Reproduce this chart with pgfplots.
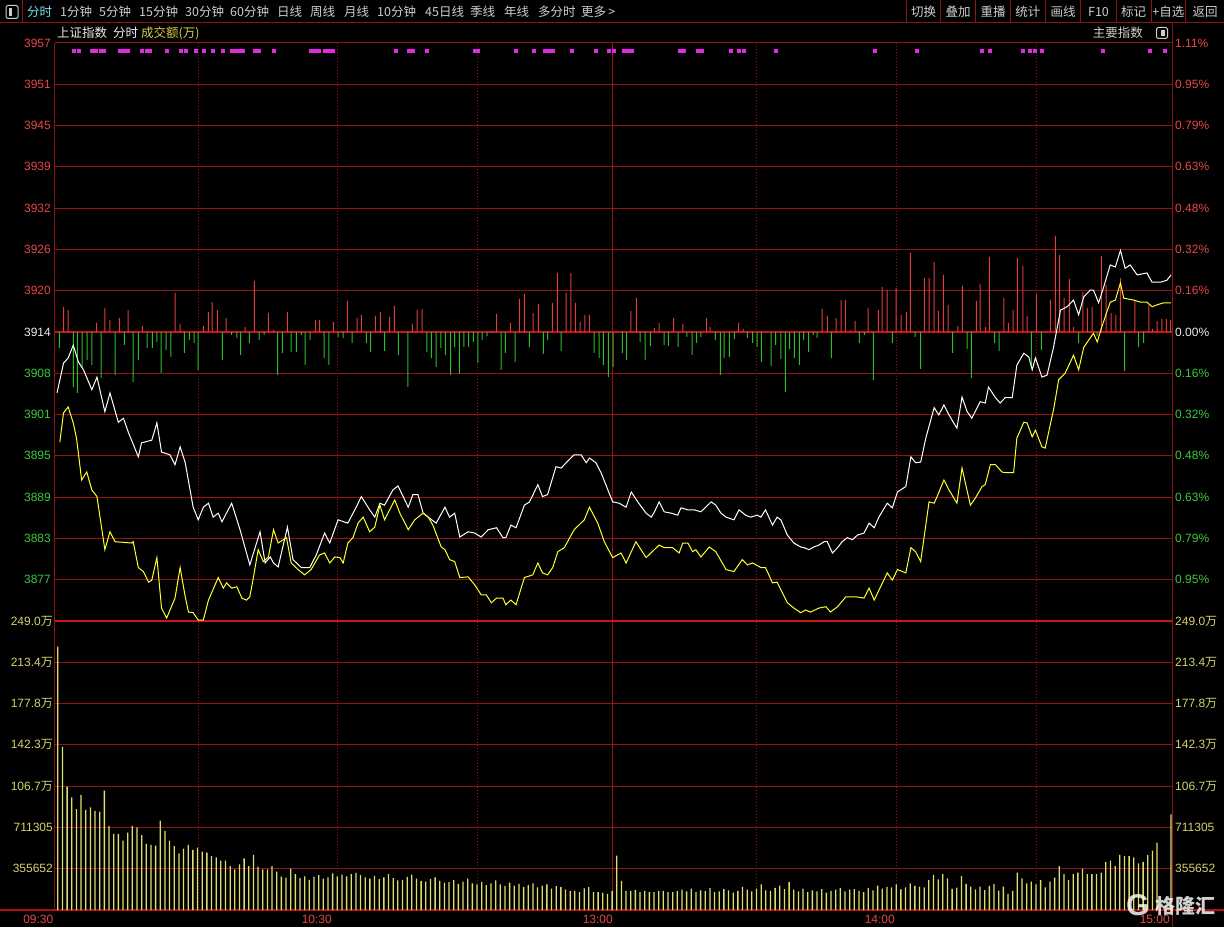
\documentclass[border=0pt]{standalone}
\usepackage{pgfplots}
\pgfplotsset{compat=1.18}
\usepackage{fontspec}
\setmainfont{Liberation Sans}
\newfontfamily\cjk{Noto Sans CJK SC}
\definecolor{gridred}{RGB}{150,18,18}
\definecolor{basered}{RGB}{205,20,20}
\definecolor{lblred}{RGB}{230,70,70}
\definecolor{lblgreen}{RGB}{60,200,60}
\definecolor{lblwhite}{RGB}{235,235,235}
\definecolor{volyel}{RGB}{222,222,110}
\definecolor{vollbl}{RGB}{210,210,110}
\definecolor{barred}{RGB}{225,60,60}
\definecolor{bargreen}{RGB}{40,190,40}
\definecolor{linyel}{RGB}{255,255,40}
\definecolor{pinkmk}{RGB}{230,40,230}
\definecolor{toolgray}{RGB}{205,205,205}
\definecolor{toolcyan}{RGB}{120,220,235}
\definecolor{sep}{RGB}{140,20,20}
\definecolor{khaki}{RGB}{215,205,70}
\newcommand\lf{\fontsize{12}{14}\selectfont}
\newcommand\tf{\cjk\fontsize{12.5}{14}\selectfont}

\pgfplotstableread{
k v
0 226.9
1 140.7
2 106.2
3 97.1
4 86.8
5 99.1
6 86.2
7 88.5
8 85.3
9 84.7
10 102.8
11 72.4
12 65.5
13 65.5
14 59.7
15 66.6
16 72.4
17 71.2
18 64.6
19 56.9
20 56.0
21 55.4
22 76.9
23 68.2
24 59.7
25 55.1
26 48.8
27 52.8
28 56.0
29 51.7
30 53.7
31 50.2
32 49.4
33 46.5
34 45.4
35 42.5
36 42.5
37 37.9
38 35.0
39 39.4
40 44.5
41 37.9
42 47.4
43 37.3
44 35.0
45 35.0
46 37.9
47 33.0
48 28.7
49 27.8
50 35.6
51 31.0
52 27.5
53 29.0
54 26.0
55 28.5
56 30.0
57 27.0
58 28.0
59 31.5
60 29.0
61 30.5
62 29.0
63 31.0
64 32.0
65 30.0
66 28.0
67 27.0
68 29.5
69 26.5
70 28.0
71 31.0
72 27.5
73 25.5
74 26.0
75 28.5
76 30.5
77 27.0
78 25.0
79 24.5
80 26.5
81 28.0
82 25.0
83 23.5
84 24.0
85 26.0
86 22.5
87 24.5
88 27.0
89 23.0
90 22.0
91 24.0
92 21.5
93 23.0
94 25.5
95 22.0
96 20.5
97 23.5
98 21.0
99 22.5
100 20.0
101 21.5
102 23.0
103 19.5
104 21.0
105 22.0
106 18.5
107 20.5
108 19.6
109 17.8
110 16.4
111 16.4
112 15.3
113 18.7
114 19.6
115 15.3
116 15.3
117 14.9
118 13.8
119 16.4
120 46.8
121 25.0
122 16.4
123 16.4
124 17.2
125 15.3
126 16.4
127 15.3
128 15.3
129 16.4
130 16.4
131 15.3
132 15.3
133 16.4
134 17.5
135 16.0
136 18.5
137 15.5
138 17.0
139 16.5
140 19.0
141 15.5
142 16.0
143 18.0
144 17.0
145 15.0
146 16.5
147 20.0
148 17.5
149 16.0
150 18.5
151 22.0
152 17.0
153 16.5
154 19.0
155 21.0
156 18.0
157 24.0
158 17.5
159 16.0
160 18.5
161 15.5
162 17.0
163 16.0
164 18.0
165 15.0
166 16.5
167 17.5
168 19.0
169 16.0
170 17.5
171 18.0
172 16.5
173 15.5
174 19.0
175 17.0
176 21.0
177 18.5
178 20.0
179 19.5
180 22.0
181 17.8
182 19.5
183 23.0
184 20.7
185 20.1
186 19.5
187 25.8
188 30.2
189 26.4
190 31.0
191 27.3
192 18.1
193 19.2
194 29.3
195 22.4
196 20.1
197 17.8
198 20.1
199 17.2
200 20.7
201 22.4
202 16.6
203 20.1
204 13.8
205 16.4
206 32.1
207 27.3
208 23.0
209 24.4
210 22.1
211 25.8
212 19.5
213 24.4
214 27.8
215 37.9
216 31.0
217 25.8
218 31.0
219 32.1
220 35.6
221 31.0
222 31.0
223 31.0
224 32.1
225 41.4
226 42.5
227 37.9
228 47.4
229 46.5
230 46.5
231 45.4
232 40.2
233 41.4
234 47.4
235 51.1
236 58.0
239 82.4
}\voltable

\begin{document}
\begin{tikzpicture}
\useasboundingbox (0,0) rectangle (1224pt,927pt);
\fill[black] (0,0) rectangle (1224pt,927pt);
\begin{scope}[x=1pt,y=-1pt,yshift=927pt]
  % toolbar
  \draw[sep,line width=1pt] (0,22.7) -- (1224,22.7);
  \draw[sep,line width=1pt] (22,0) -- (22,22.7);
  \foreach \sx in {906.8,940.6,975.7,1010.4,1045.4,1080.9,1116,1151,1185.7}
    \draw[sep,line width=1pt] (\sx,0) -- (\sx,22.7);
  \draw[toolgray,line width=1pt,rounded corners=1.5pt] (6,5.5) rectangle (18,18.5);
  \fill[toolgray] (8.5,8) rectangle (12,16);
  \node[anchor=west,inner sep=0pt,text=toolcyan,font=\tf] at (27,12) {分时};
  \foreach \px/\t in {60/1分钟,99/5分钟,139/15分钟,185/30分钟,230/60分钟,277/日线,310/周线,344/月线,377/10分钟,425/45日线,470/季线,504/年线,538/多分时,581/更多\,>}
    \node[anchor=west,inner sep=0pt,text=toolgray,font=\tf] at (\px,12) {\t};
  \foreach \px/\t in {923.7/切换,958.2/叠加,993/重播,1027.9/统计,1063.1/画线,1098.5/F10,1133.5/标记,1168.4/+自选,1205/返回}
    \node[inner sep=0pt,text=toolgray,font=\tf] at (\px,12) {\t};
  % second row
  \node[anchor=west,inner sep=0pt,text=lblwhite,font=\tf] at (57,33) {上证指数};
  \node[anchor=west,inner sep=0pt,text=lblwhite,font=\tf] at (113,33) {分时};
  \node[anchor=west,inner sep=0pt,text=khaki,font=\tf] at (141,33) {成交额(万)};
  \node[anchor=east,inner sep=0pt,text=toolgray,font=\tf] at (1143,33) {主要指数};
  \draw[toolgray,line width=1pt,rounded corners=1.5pt] (1156.5,27.5) rectangle (1167.5,38.5);
  \fill[toolgray] (1161,30) rectangle (1165,36);
  % horizontal grid, price
  \foreach \i in {0,...,13}
    \draw[gridred,line width=1pt] (54.5,{43+\i*41.2857}) -- (1172.5,{43+\i*41.2857});
  % horizontal grid, volume
  \foreach \j in {1,...,6}
    \draw[gridred,line width=1pt] (54.5,{621+\j*41.2857}) -- (1172.5,{621+\j*41.2857});
  % vertical grid
  \foreach \vx in {198.3,337.3,477.3,756.3,896.7,1036.3}
    \draw[gridred,line width=0.9pt,dash pattern=on 1pt off 2pt] (\vx,43) -- (\vx,910);
  \draw[gridred!90!red,line width=1pt] (612.7,43) -- (612.7,910);
  % borders
  \draw[basered,line width=2.2pt] (54.5,332) -- (1172.5,332);
  \draw[basered,line width=2pt] (54.5,621) -- (1172.5,621);
  \draw[basered!85!black,line width=1.4pt] (0,910) -- (1224,910);
  \draw[sep,line width=1pt] (54.5,43) -- (54.5,910);
  \draw[sep,line width=1pt] (1172.5,22.7) -- (1172.5,927);
  % left price labels
  \foreach \i/\t/\c in {0/3957/lblred,1/3951/lblred,2/3945/lblred,3/3939/lblred,4/3932/lblred,5/3926/lblred,6/3920/lblred,7/3914/lblwhite,8/3908/lblgreen,9/3901/lblgreen,10/3895/lblgreen,11/3889/lblgreen,12/3883/lblgreen,13/3877/lblgreen}
    \node[anchor=east,inner sep=0pt,text=\c,font=\lf] at (51,{43+\i*41.2857}) {\t};
  \foreach \i/\t/\c in {0/1.11/lblred,1/0.95/lblred,2/0.79/lblred,3/0.63/lblred,4/0.48/lblred,5/0.32/lblred,6/0.16/lblred,7/0.00/lblwhite,8/0.16/lblgreen,9/0.32/lblgreen,10/0.48/lblgreen,11/0.63/lblgreen,12/0.79/lblgreen,13/0.95/lblgreen}
    \node[anchor=west,inner sep=0pt,text=\c,font=\lf] at (1175,{43+\i*41.2857}) {\t\%};
  % volume labels
  \foreach \j/\t in {0/249.0,1/213.4,2/177.8,3/142.3,4/106.7} {
    \node[anchor=east,inner sep=0pt,text=vollbl,font=\lf] at (53,{621+\j*41.2857}) {\t{\cjk 万}};
    \node[anchor=west,inner sep=0pt,text=vollbl,font=\lf] at (1175,{621+\j*41.2857}) {\t{\cjk 万}};
  }
  \foreach \j/\t in {5/711305,6/355652} {
    \node[anchor=east,inner sep=0pt,text=vollbl,font=\lf] at (53,{621+\j*41.2857}) {\t};
    \node[anchor=west,inner sep=0pt,text=vollbl,font=\lf] at (1175,{621+\j*41.2857}) {\t};
  }
  % time labels
  \foreach \px/\t in {53.5/09:30,332/10:30,613/13:00,895/14:00,1170/15:00}
    \node[anchor=east,inner sep=0pt,text=lblred,font=\lf] at (\px,919) {\t};
\end{scope}

% red/green breadth bars
\begin{axis}[at={(54.5pt,306pt)},anchor=south west,scale only axis,
  width=1118pt,height=578pt,xmin=-0.54,xmax=240.1,ymin=-289,ymax=289,hide axis]
\addplot[ybar,bar width=1pt,bar shift=0pt,draw=none,fill=barred] coordinates {
(1.4,25)(2.4,22)(8.5,9)(10.3,24)(11.4,12)(13.4,14)(15.3,22)(18.4,6)(25.4,39)(26.5,8)(31.5,6)(32.6,20)(33.4,30)(34.5,22)(36.4,14)(40.5,5)(42.5,51)(45.5,19)(46.6,2)(49.6,20)(55.6,12)(56.5,12)(59.5,10)(62.5,31)(64.6,14)(65.5,17)(68.5,16)(69.6,20)(71.6,15)(72.6,26)(76.5,8)(77.5,22)(78.6,23)(93.5,1)(94.6,18)(97.6,9)(99.5,33)(100.6,38)(102.5,19)(103.6,28)(106.6,29)(107.7,59)(109.6,39)(110.6,59)(111.6,29)(112.6,10)(113.6,17)(114.6,17)(123.5,21)(124.7,34)(128.6,4)(129.6,9)(132.7,14)(134.7,8)(139.8,14)(140.6,5)(146.7,9)(147.7,3)(164.7,23)(165.8,16)(167.7,14)(168.8,32)(169.7,32)(170.7,2)(171.8,11)(174.6,24)(176.8,22)(177.6,45)(178.7,42)(180.6,44)(181.7,17)(182.8,20)(183.7,79)(186.7,54)(187.7,54)(188.8,70)(189.7,21)(190.8,57)(191.8,27)(193.9,6)(194.9,46)(197.9,31)(198.7,48)(199.9,5)(200.7,75)(203.8,34)(204.8,9)(205.8,22)(206.7,74)(207.9,66)(208.8,16)(210.8,38)(213.8,32)(214.9,96)(215.8,77)(216.8,34)(217.9,53)(218.8,5)(220.8,40)(221.8,24)(222.8,25)(224.8,76)(225.8,47)(226.9,19)(227.9,17)(228.9,54)(232.0,32)(235.0,27)(235.8,3)(236.8,11)(237.8,13)(238.8,13)(239.7,12)};
\addplot[ybar,bar width=1pt,bar shift=0pt,draw=none,fill=bargreen] coordinates {
(0.5,-16)(3.5,-55)(4.4,-61)(5.4,-35)(6.5,-28)(7.5,-33)(9.5,-46)(12.5,-43)(14.5,-13)(16.4,-50)(17.5,-28)(19.4,-16)(20.5,-16)(21.5,-10)(22.4,-41)(23.5,-18)(24.5,-25)(27.4,-21)(28.5,-8)(29.5,-11)(30.4,-38)(35.6,-28)(37.6,-3)(38.7,-6)(39.5,-23)(41.4,-11)(43.5,-8)(44.6,-3)(47.5,-43)(48.5,-21)(50.4,-20)(51.5,-20)(52.6,-3)(53.4,-33)(54.5,-8)(57.5,-26)(58.5,-33)(60.5,-5)(61.6,-6)(63.5,-11)(66.6,-11)(67.5,-20)(70.5,-19)(73.5,-23)(75.5,-55)(79.6,-20)(80.6,-26)(81.6,-35)(82.6,-16)(83.6,-23)(84.7,-43)(85.6,-15)(86.6,-42)(87.6,-15)(88.6,-15)(89.6,-10)(90.6,-31)(91.5,-8)(92.6,-4)(95.6,-38)(96.5,-21)(98.6,-30)(101.7,-15)(104.7,-22)(105.6,-8)(108.5,-19)(115.6,-21)(116.7,-26)(117.6,-33)(118.7,-45)(119.7,-35)(121.7,-21)(122.6,-28)(125.5,-10)(126.6,-28)(127.7,-14)(130.7,-13)(131.6,-14)(133.7,-15)(135.6,-5)(136.7,-23)(137.7,-11)(138.6,-5)(141.7,-8)(142.8,-43)(143.6,-26)(144.7,-25)(145.8,-7)(148.6,-6)(149.7,-11)(150.7,-15)(151.6,-30)(153.7,-34)(154.7,-13)(155.8,-27)(156.8,-60)(157.7,-17)(158.7,-26)(159.8,-33)(160.7,-8)(161.8,-20)(162.8,-3)(163.6,-6)(166.7,-26)(172.7,-11)(173.8,-3)(175.7,-48)(179.8,-11)(184.7,-5)(185.9,-37)(192.8,-21)(195.9,-17)(196.8,-46)(201.8,-11)(202.8,-19)(209.7,-35)(211.9,-18)(219.9,-11)(223.9,-4)(229.8,-39)(232.8,-15)(233.9,-11)};
\end{axis}

% price lines
\begin{axis}[at={(54.5pt,306pt)},anchor=south west,scale only axis,
  width=1118pt,height=578pt,xmin=-0.54,xmax=240.1,ymin=3870.45,ymax=3957.55,hide axis]
\addplot[white,line width=1pt] coordinates {
(0,3904.8)(1.4,3909.3)(2.4,3910.1)(3.5,3912.0)(4.6,3909.5)(5.7,3908.3)(7.5,3905.3)(8.6,3907.2)(10.3,3902.0)(11.4,3904.8)(13.2,3900.4)(14.3,3901.0)(15.4,3898.8)(17.5,3895.2)(18.2,3897.3)(20.4,3897.7)(21.5,3900.3)(22.5,3895.9)(24.3,3895.5)(25.4,3894.0)(26.5,3896.7)(27.6,3894.3)(29.3,3887.6)(30.4,3885.7)(31.5,3887.6)(32.6,3888.2)(33.6,3886.1)(34.7,3886.7)(35.5,3885.4)(37.6,3888.2)(39.4,3884.2)(41.5,3878.9)(43.7,3883.9)(44.8,3879.2)(45.9,3880.1)(46.6,3879.2)(47.6,3878.6)(49.6,3884.6)(50.8,3879.7)(52.6,3878.5)(54.4,3878.5)(55.8,3880.4)(57.6,3883.7)(58.7,3882.2)(60.5,3885.7)(62.6,3885.2)(64.4,3887.6)(65.5,3889.2)(67.3,3887.2)(68.4,3886.1)(69.5,3888.2)(70.5,3887.9)(72.3,3890.2)(73.4,3890.8)(75.6,3887.6)(76.6,3889.5)(77.7,3889.5)(78.8,3886.7)(79.9,3886.1)(81.6,3885.2)(83.5,3887.6)(84.5,3886.1)(85.6,3886.7)(86.7,3883.1)(88.5,3883.9)(89.9,3883.7)(91.3,3883.1)(92.8,3884.2)(94.6,3884.5)(96.0,3883.0)(96.6,3883.0)(97.7,3884.9)(98.8,3884.5)(100.6,3887.9)(101.7,3888.4)(103.5,3891.0)(104.5,3889.2)(105.6,3889.5)(107.4,3893.7)(108.5,3893.5)(109.6,3894.3)(111.3,3895.5)(112.8,3895.5)(113.9,3894.3)(114.6,3895.0)(116.0,3894.3)(117.1,3892.8)(119.6,3888.4)(121.0,3888.2)(122.5,3887.6)(123.6,3889.9)(125.0,3888.4)(126.8,3886.7)(127.9,3886.1)(128.6,3886.9)(129.6,3888.4)(130.7,3886.9)(132.2,3886.7)(133.6,3886.4)(134.3,3887.5)(135.8,3887.2)(137.2,3887.2)(138.6,3886.9)(140.8,3888.4)(141.8,3887.9)(142.9,3886.7)(144.0,3886.1)(145.7,3885.7)(146.8,3887.2)(148.2,3886.4)(149.3,3886.1)(150.7,3886.4)(151.5,3886.1)(152.5,3887.2)(154.0,3884.9)(155.0,3886.1)(155.8,3885.7)(157.2,3883.4)(158.6,3882.2)(160.1,3881.6)(160.8,3881.5)(161.9,3881.2)(162.9,3881.6)(164.0,3881.9)(165.1,3882.4)(165.8,3882.4)(166.9,3880.7)(168.0,3881.5)(169.0,3882.4)(170.1,3883.0)(171.2,3882.7)(172.3,3883.4)(173.7,3883.7)(174.8,3885.2)(175.9,3884.5)(176.9,3886.1)(178.7,3888.2)(179.8,3887.5)(180.9,3889.9)(182.7,3890.7)(183.8,3895.2)(184.8,3894.3)(185.9,3894.4)(187.0,3898.0)(188.8,3902.6)(189.8,3901.5)(190.9,3903.0)(192.0,3901.5)(193.7,3899.5)(194.8,3904.2)(195.9,3902.0)(196.9,3901.0)(198.7,3903.5)(199.8,3903.3)(200.5,3905.7)(202.0,3904.1)(203.0,3903.3)(204.1,3904.1)(205.6,3904.1)(206.6,3909.0)(208.1,3910.8)(209.2,3910.2)(209.9,3908.3)(210.6,3910.1)(212.0,3907.2)(213.1,3907.5)(214.5,3911.7)(216.0,3917.3)(217.4,3917.8)(218.8,3918.8)(219.9,3916.6)(221.0,3919.3)(222.4,3920.3)(223.1,3920.3)(224.2,3918.4)(225.3,3920.8)(226.7,3924.1)(227.8,3923.8)(228.9,3926.3)(229.9,3923.6)(231.0,3924.1)(232.5,3922.6)(234.6,3922.9)(235.7,3921.5)(237.5,3921.5)(238.9,3921.8)(239.8,3922.6)};
\addplot[linyel,line width=1pt] coordinates {
(0.6,3897.4)(1.4,3901.8)(2.4,3902.7)(3.5,3900.3)(4.2,3898.0)(5.3,3891.7)(6.4,3892.9)(7.5,3890.2)(8.6,3889.2)(10.3,3881.2)(11.4,3883.9)(12.5,3882.4)(16.1,3882.2)(16.4,3882.4)(17.5,3878.5)(18.6,3877.9)(19.7,3876.3)(20.4,3876.6)(21.5,3880.0)(22.5,3872.4)(23.6,3870.9)(25.4,3873.9)(26.5,3878.5)(27.6,3874.1)(28.3,3871.8)(29.3,3871.7)(30.4,3870.6)(31.5,3870.6)(32.6,3873.6)(34.7,3877.0)(35.8,3875.4)(36.5,3876.2)(37.6,3875.4)(38.7,3875.6)(39.8,3873.9)(40.8,3873.6)(41.5,3874.1)(42.3,3877.1)(43.3,3881.2)(44.4,3879.4)(45.5,3880.1)(46.6,3884.2)(47.6,3882.2)(49.4,3883.0)(50.4,3879.2)(51.9,3878.2)(53.3,3877.4)(54.7,3878.2)(56.5,3880.4)(57.6,3880.7)(58.7,3879.2)(59.8,3880.1)(60.9,3880.0)(61.6,3879.2)(62.6,3882.2)(63.7,3883.0)(64.8,3885.2)(65.9,3886.1)(67.3,3883.9)(68.4,3884.6)(69.5,3887.9)(70.5,3885.7)(72.7,3888.7)(73.8,3886.7)(75.6,3884.2)(77.0,3885.7)(78.8,3886.7)(79.9,3886.1)(80.9,3884.9)(82.7,3881.6)(83.5,3881.2)(84.5,3879.7)(85.6,3879.4)(86.7,3877.0)(88.5,3877.1)(89.9,3875.9)(91.3,3874.4)(92.4,3874.4)(93.5,3873.2)(94.6,3873.9)(96.0,3873.9)(96.6,3872.9)(97.7,3873.6)(98.8,3872.9)(100.6,3877.0)(102.4,3877.4)(103.5,3879.2)(104.5,3877.7)(105.6,3877.4)(106.7,3878.5)(107.8,3880.9)(109.2,3881.5)(111.3,3884.2)(113.5,3885.7)(114.6,3887.6)(116.4,3885.2)(117.8,3882.4)(119.6,3880.0)(121.4,3880.7)(122.5,3879.2)(124.6,3882.4)(126.8,3880.0)(129.6,3881.9)(130.7,3881.5)(132.5,3881.5)(133.9,3880.7)(134.7,3882.2)(135.8,3882.2)(136.8,3880.9)(137.5,3881.2)(138.6,3880.1)(140.4,3881.6)(141.8,3880.9)(144.0,3878.2)(145.7,3877.9)(147.5,3879.7)(148.6,3878.9)(149.7,3879.2)(151.5,3878.5)(152.5,3878.5)(154.0,3876.2)(155.0,3876.3)(157.2,3873.2)(158.6,3872.4)(160.1,3871.7)(161.1,3872.1)(162.2,3871.8)(164.0,3872.4)(165.5,3872.6)(166.5,3871.8)(168.0,3872.6)(169.8,3874.1)(171.9,3874.1)(173.7,3873.9)(174.8,3875.4)(175.9,3873.6)(178.7,3877.7)(179.8,3876.6)(180.9,3878.2)(182.7,3877.7)(183.8,3881.5)(184.8,3880.9)(185.9,3879.4)(187.7,3888.4)(188.8,3888.2)(189.8,3889.8)(190.9,3891.7)(192.0,3890.2)(193.7,3888.2)(194.8,3893.5)(196.6,3887.9)(197.7,3889.0)(199.1,3890.7)(199.8,3891.0)(200.9,3894.0)(202.0,3894.0)(203.4,3892.9)(204.1,3892.8)(205.9,3892.8)(206.6,3898.0)(208.1,3900.4)(208.8,3900.3)(209.9,3898.2)(210.6,3899.2)(212.0,3896.7)(212.7,3896.5)(214.5,3902.3)(215.6,3906.8)(217.0,3907.8)(218.8,3910.5)(219.9,3908.3)(221.0,3911.7)(223.1,3913.8)(223.9,3912.5)(224.9,3914.8)(226.7,3918.5)(227.8,3918.8)(228.9,3921.4)(229.6,3919.1)(231.8,3918.8)(233.2,3918.5)(234.6,3918.5)(235.7,3917.8)(236.8,3918.1)(238.2,3918.4)(239.8,3918.4)};
\addplot[only marks,mark=square*,mark size=1.5pt,pinkmk] coordinates {
(3.7,3956.4)(4.6,3956.4)(7.5,3956.4)(8.4,3956.4)(9.3,3956.4)(10.1,3956.4)(13.6,3956.4)(14.4,3956.4)(15.3,3956.4)(18.3,3956.4)(19.2,3956.4)(20.0,3956.4)(23.7,3956.4)(26.7,3956.4)(27.6,3956.4)(29.9,3956.4)(31.6,3956.4)(33.6,3956.4)(35.7,3956.4)(37.5,3956.4)(38.3,3956.4)(39.2,3956.4)(40.0,3956.4)(42.6,3956.4)(43.5,3956.4)(46.7,3956.4)(54.7,3956.4)(55.5,3956.4)(56.4,3956.4)(57.7,3956.4)(58.5,3956.4)(59.4,3956.4)(72.8,3956.4)(75.8,3956.4)(76.6,3956.4)(79.6,3956.4)(89.8,3956.4)(90.6,3956.4)(98.8,3956.4)(102.7,3956.4)(105.0,3956.4)(105.9,3956.4)(106.8,3956.4)(110.8,3956.4)(116.0,3956.4)(118.8,3956.4)(119.9,3956.4)(122.0,3956.4)(122.9,3956.4)(123.8,3956.4)(134.1,3956.4)(134.9,3956.4)(137.9,3956.4)(138.8,3956.4)(145.1,3956.4)(146.8,3956.4)(147.7,3956.4)(154.8,3956.4)(176.1,3956.4)(185.1,3956.4)(199.1,3956.4)(200.8,3956.4)(207.9,3956.4)(209.4,3956.4)(210.5,3956.4)(212.0,3956.4)(225.1,3956.4)(235.3,3956.4)(238.5,3956.4)};
\end{axis}

% volume
\begin{axis}[at={(54.5pt,17pt)},anchor=south west,scale only axis,
  width=1118pt,height=289pt,xmin=-0.71,xmax=239.31,ymin=0,ymax=248.96,hide axis]
\addplot[ybar,bar width=1.3pt,bar shift=0pt,draw=none,fill=volyel] table[x=k,y=v] {\voltable};
\end{axis}

% watermark
\node[anchor=west,inner sep=0pt,text=white,opacity=0.82,font=\fontsize{30}{30}\selectfont\bfseries] at (1126pt,22pt) {G};
\node[anchor=west,inner sep=0pt,text=white,opacity=0.82,font=\cjk\fontsize{20}{22}\selectfont\bfseries] at (1155pt,21pt) {格隆汇};
\end{tikzpicture}
\end{document}
